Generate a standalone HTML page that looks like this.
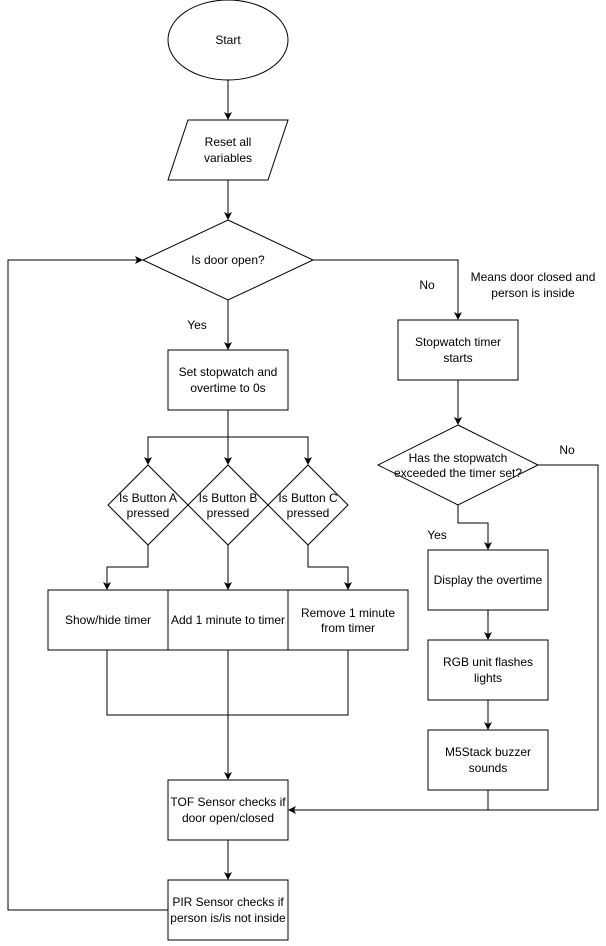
<!DOCTYPE html>
<html><head><style>body{margin:0;background:#fff}</style></head><body>
<svg width="606" height="941" viewBox="0 0 606 941" xmlns="http://www.w3.org/2000/svg" font-family="Liberation Sans, Arial, sans-serif" font-size="12">
<defs><marker id="a" markerWidth="10" markerHeight="10" refX="7" refY="4" orient="auto" markerUnits="userSpaceOnUse"><path d="M0,0 L8,4 L0,8 L2,4 Z" fill="#000"/></marker></defs>
<g fill="none" stroke="#000" stroke-width="1">
<ellipse cx="228" cy="40" rx="60" ry="40" fill="#fff"/>
<path d="M188,120 H288 L268,180 H168 Z" fill="#fff"/>
<path d="M228,220 L313,260 L228,300 L143,260 Z" fill="#fff"/>
<rect x="168" y="350" width="120" height="60"/>
<path d="M148,465 L188,505 L148,545 L108,505 Z"/>
<path d="M228,465 L268,505 L228,545 L188,505 Z"/>
<path d="M308,465 L348,505 L308,545 L268,505 Z"/>
<rect x="48" y="590" width="120" height="60"/>
<rect x="168" y="590" width="120" height="60"/>
<rect x="288" y="590" width="120" height="60"/>
<rect x="168" y="780" width="120" height="60"/>
<rect x="168" y="880" width="120" height="60"/>
<rect x="398" y="320" width="120" height="60"/>
<path d="M458,425 L538,465 L458,505 L378,465 Z"/>
<rect x="428" y="550" width="120" height="60"/>
<rect x="428" y="640" width="120" height="60"/>
<rect x="428" y="730" width="120" height="60"/>
<g marker-end="url(#a)">
<path d="M228,80 V119"/>
<path d="M228,180 V219"/>
<path d="M228,300 V349"/>
<path d="M228,410 V464"/>
<path d="M228,437 H148 V464"/>
<path d="M228,437 H308 V464"/>
<path d="M148,545 V567 H107 V589"/>
<path d="M228,545 V589"/>
<path d="M308,545 V567 H348 V589"/>
<path d="M228,650 V779"/>
<path d="M228,840 V879"/>
<path d="M168,910 H8 V260 H142"/>
<path d="M313,260 H458 V319"/>
<path d="M458,380 V424"/>
<path d="M538,465 H598 V810 H289"/>
<path d="M458,505 V523 H488 V549"/>
<path d="M488,610 V639"/>
<path d="M488,700 V729"/>
</g>
<path d="M107,650 V715 H348 V650"/>
<path d="M488,790 V810"/>
</g>
<g text-anchor="middle" fill="#000">
<text x="228" y="44">Start</text>
<text x="228" y="146">Reset all</text><text x="228" y="162">variables</text>
<text x="228" y="264">Is door open?</text>
<text x="228" y="376">Set stopwatch and</text><text x="228" y="392">overtime to 0s</text>
<text x="148" y="502">Is Button A</text><text x="148" y="517">pressed</text>
<text x="228" y="502">Is Button B</text><text x="228" y="517">pressed</text>
<text x="308" y="502">Is Button C</text><text x="308" y="517">pressed</text>
<text x="108" y="624">Show/hide timer</text>
<text x="228" y="624">Add 1 minute to timer</text>
<text x="348" y="617">Remove 1 minute</text><text x="348" y="632">from timer</text>
<text x="228" y="806">TOF Sensor checks if</text><text x="228" y="822">door open/closed</text>
<text x="228" y="906">PIR Sensor checks if</text><text x="228" y="922">person is/is not inside</text>
<text x="458" y="346">Stopwatch timer</text><text x="458" y="362">starts</text>
<text x="458" y="462">Has the stopwatch</text><text x="458" y="477">exceeded the timer set?</text>
<text x="488" y="584">Display the overtime</text>
<text x="488" y="666">RGB unit flashes</text><text x="488" y="682">lights</text>
<text x="488" y="756">M5Stack buzzer</text><text x="488" y="772">sounds</text>
<text x="197" y="329">Yes</text>
<text x="427" y="289">No</text>
<text x="533" y="281">Means door closed and</text><text x="533" y="297">person is inside</text>
<text x="567" y="454">No</text>
<text x="437" y="539">Yes</text>
</g>
</svg>
</body></html>
